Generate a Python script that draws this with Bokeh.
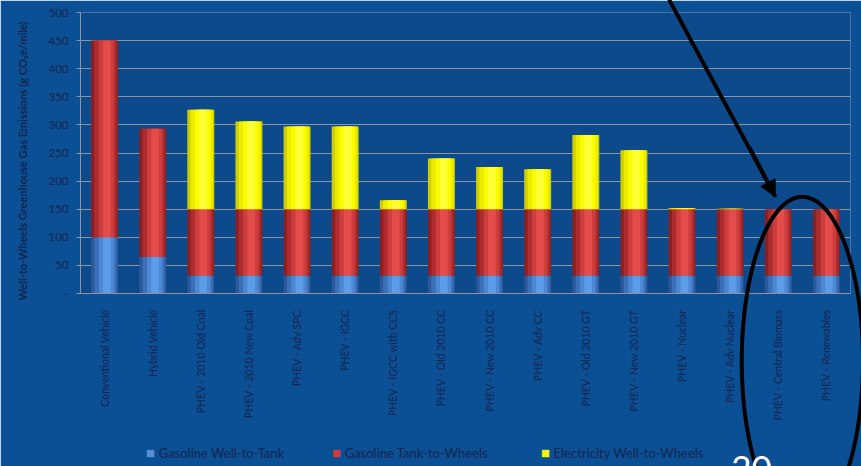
from bokeh.plotting import figure
from bokeh.models import (ColumnDataSource, FactorRange, FixedTicker, Arrow, NormalHead)
from bokeh.core.properties import value
from bokeh.transform import dodge
from bokeh.embed import file_html
from bokeh.resources import INLINE
import numpy as np

categories = ["Conventional Vehicle", "Hybrid Vehicle", "PHEV - 2010 Old Coal",
              "PHEV - 2010 New Coal", "PHEV - Adv SPC", "PHEV - IGCC",
              "PHEV - IGCC with CCS", "PHEV - Old 2010 CC", "PHEV - New 2010 CC",
              "PHEV - Adv CC", "PHEV - Old 2010 GT", "PHEV - New 2010 GT",
              "PHEV - Nuclear", "PHEV - Adv Nuclear", "PHEV - Central Biomass",
              "PHEV - Renewables"]
gasoline_wtt = [100, 65, 32, 32, 32, 32, 32, 32, 32, 32, 32, 32, 32, 32, 32, 32]
gasoline_ttw = [350, 228, 118, 118, 118, 118, 118, 118, 118, 118, 118, 118, 118, 118, 118, 118]
electricity_wtw = [0, 0, 177, 156, 147, 147, 16, 90, 75, 71, 132, 105, 2, 1, 0, 0]
series_names = ["Gasoline Well-to-Tank", "Gasoline Tank-to-Wheels", "Electricity Well-to-Wheels"]
y_ticks = [0, 50, 100, 150, 200, 250, 300, 350, 400, 450, 500]

src = ColumnDataSource(dict(cat=categories, wtt=gasoline_wtt, ttw=gasoline_ttw, ew=electricity_wtw))
stack = ["wtt", "ttw", "ew"]

BG = "#0b4f95"
TXT = "#13264d"
FONT = "Lato"

p = figure(x_range=FactorRange(*categories), y_range=(0, 500), width=861, height=466,
           output_backend="svg", toolbar_location=None,
           min_border_left=80, min_border_right=11, min_border_top=12, min_border_bottom=173)
p.background_fill_color = "#0c4a8b"
p.border_fill_color = BG
p.outline_line_color = None

# cylinder-like shading layers
layers = [
    (0.56, 0.0, ["#2c5899", "#8a2022", "#cfcf00"]),
    (0.46, 0.02, ["#3b70b9", "#ad2c2e", "#ecec00"]),
    (0.32, 0.04, ["#4c88d4", "#cc3d3d", "#fcfc00"]),
    (0.16, 0.05, ["#5c9ce8", "#e34c4b", "#ffff38"]),
]
for w, off, cols in layers:
    p.vbar_stack(stack, x=dodge("cat", off, range=p.x_range), width=w, color=cols,
                 line_color=None, source=src)

p.xgrid.grid_line_color = None
p.ygrid.grid_line_color = "#8a94a3"
p.ygrid.grid_line_width = 1.2
p.ygrid.level = "underlay"

p.yaxis.ticker = FixedTicker(ticks=y_ticks)
p.yaxis.major_label_overrides = {0: "-"}
p.yaxis.axis_label = "Well-to-Wheels Greenhouse Gas Emissions (g CO\u2082e/mile)" + "\u00a0" * 6
p.yaxis.axis_label_text_font = FONT
p.yaxis.axis_label_text_font_style = "bold"
p.yaxis.axis_label_text_font_size = "11px"
p.yaxis.axis_label_text_color = TXT
p.yaxis.axis_label_standoff = 16
p.yaxis.major_label_text_font = FONT
p.yaxis.major_label_text_font_size = "11.5px"
p.yaxis.major_label_text_color = TXT
p.yaxis.major_label_standoff = 8
p.yaxis.axis_line_color = "#8a94a3"
p.yaxis.major_tick_line_color = "#8a94a3"
p.yaxis.major_tick_out = 4
p.yaxis.major_tick_in = 0
p.yaxis.minor_tick_line_color = None

p.xaxis.major_label_orientation = np.pi / 2
p.xaxis.major_label_text_font = FONT
p.xaxis.major_label_text_font_size = "10.5px"
p.xaxis.major_label_text_color = TXT
p.xaxis.major_label_standoff = 10
p.xaxis.axis_line_color = "#8a94a3"
p.xaxis.major_tick_line_color = None

# legend row below the axis labels (overlay text glyphs so it is not clipped to the frame)
LEG_X = [1.455, 5.32, 9.66]
LEG_Y = -283
LEG_COLORS = ["#5a8fd6", "#d03c3c", "#f5f500"]
leg = ColumnDataSource(dict(x=LEG_X, tx=[x + 0.17 for x in LEG_X], y=[LEG_Y] * 3,
                            name=series_names, color=LEG_COLORS, sq=["\u25a0"] * 3))
p.text(x="x", y="y", text="sq", text_color="color", text_font=value("DejaVu Sans"),
       text_font_size="9.5px", text_align="center", text_baseline="middle",
       source=leg, level="overlay")
p.text(x="tx", y="y", text="name", text_color=TXT, text_font=value(FONT),
       text_font_size="13px", text_baseline="middle", source=leg, level="overlay")

# slide annotations drawn on top (overlay level): arrow, ellipse, page number
ARROW_X, ARROW_Y = [12.23, 14.44], [523, 172]
p.segment(x0=ARROW_X[0], y0=ARROW_Y[0], x1=ARROW_X[1], y1=ARROW_Y[1],
          line_color="black", line_width=4, level="overlay")
p.add_layout(Arrow(end=NormalHead(size=16, fill_color="black", line_color="black"),
                   x_start=13.9, y_start=260, x_end=ARROW_X[1], y_end=ARROW_Y[1],
                   line_color="black", line_width=4))
t = np.linspace(0, 2 * np.pi, 160)
ELL_C, ELL_R = (15.0, -120), (1.26, 292)
p.line(x=list(ELL_C[0] + ELL_R[0] * np.cos(t)), y=list(ELL_C[1] + ELL_R[1] * np.sin(t)),
       line_color="black", line_width=4, level="overlay")
p.text(x=[13.52], y=[-289], text=["20"], text_color="white", text_font=value(FONT),
       text_font_size="35px", text_baseline="top", level="overlay")

open("out.html", "w").write(file_html(p, INLINE))
